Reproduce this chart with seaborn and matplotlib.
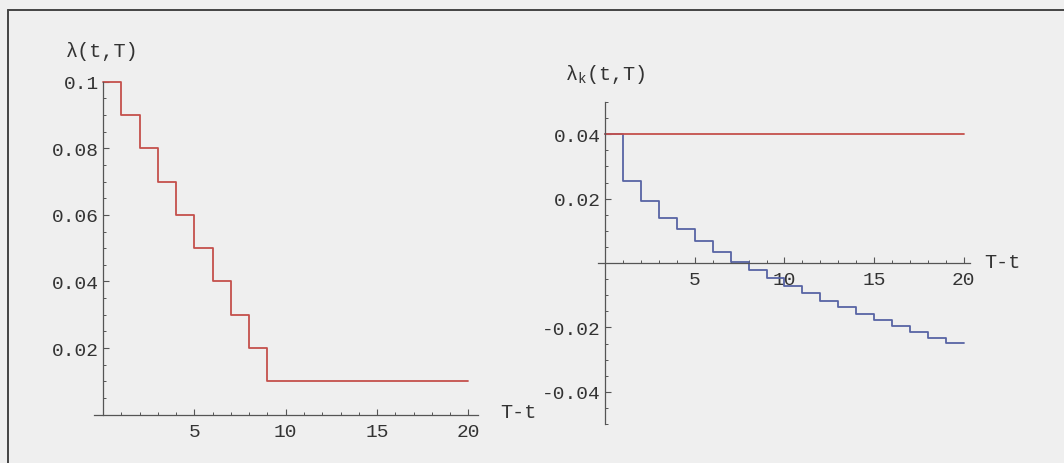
import numpy as np
import pandas as pd
import matplotlib
matplotlib.use("Agg")
import matplotlib.pyplot as plt
from matplotlib.lines import Line2D
from matplotlib.ticker import FixedLocator, FixedFormatter, MultipleLocator
import seaborn as sns

# ---- data ----
t_left = list(range(0, 21))
lam_left = [0.10, 0.09, 0.08, 0.07, 0.06, 0.05, 0.04, 0.03, 0.02,
            0.01, 0.01, 0.01, 0.01, 0.01, 0.01, 0.01, 0.01, 0.01, 0.01, 0.01, 0.01]

t_right = list(range(0, 21))
lam_k_red = [0.04] * 21
lam_k_blue = [0.040, 0.0254, 0.0191, 0.0141, 0.0106, 0.0067, 0.0034, 0.0003,
              -0.0023, -0.0048, -0.0071, -0.0093, -0.0118, -0.0138, -0.0159,
              -0.0177, -0.0196, -0.0214, -0.0233, -0.0249, -0.0249]

left_xticks = [5, 10, 15, 20]
left_xticklabels = ["5", "10", "15", "20"]
left_yticks = [0.02, 0.04, 0.06, 0.08, 0.1]
left_yticklabels = ["0.02", "0.04", "0.06", "0.08", "0.1"]
right_xticks = [5, 10, 15, 20]
right_xticklabels = ["5", "10", "15", "20"]
right_yticks = [-0.04, -0.02, 0.02, 0.04]
right_yticklabels = ["-0.04", "-0.02", "0.02", "0.04"]

RED = "#c4504c"
BLUE = "#5864a4"
BG = "#efefef"
AXC = "#555555"
TXT = "#333333"

sns.set_theme(style="white")
plt.rcParams["font.family"] = ["Liberation Mono", "DejaVu Sans"]
plt.rcParams["mathtext.fontset"] = "custom"
plt.rcParams["mathtext.rm"] = "Liberation Mono"
plt.rcParams["mathtext.it"] = "Liberation Mono"

W, H = 1064, 464
fig = plt.figure(figsize=(W / 100, H / 100), dpi=100, facecolor=BG)


def px_axes(left, top, right, bottom):
    return fig.add_axes([left / W, 1 - bottom / H, (right - left) / W, (bottom - top) / H])


def style_axes(ax, xt, xtl, yt, ytl, yminor):
    ax.set_facecolor("none")
    for s in ["top", "right"]:
        ax.spines[s].set_visible(False)
    for s in ["left", "bottom"]:
        ax.spines[s].set_position(("data", 0))
        ax.spines[s].set_color(AXC)
        ax.spines[s].set_linewidth(0.9)
    ax.xaxis.set_major_locator(FixedLocator(xt))
    ax.xaxis.set_major_formatter(FixedFormatter(xtl))
    ax.yaxis.set_major_locator(FixedLocator(yt))
    ax.yaxis.set_major_formatter(FixedFormatter(ytl))
    ax.xaxis.set_minor_locator(MultipleLocator(1))
    ax.yaxis.set_minor_locator(MultipleLocator(yminor))
    ax.tick_params(which="major", direction="in", length=4, width=0.8, color=AXC,
                   labelsize=14, labelcolor=TXT)
    ax.tick_params(which="minor", direction="in", length=2, width=0.7, color=AXC)
    ax.tick_params(axis="x", which="major", pad=6, bottom=True)
    ax.tick_params(axis="x", which="minor", bottom=True)
    ax.tick_params(axis="y", which="major", pad=3, left=True)
    ax.tick_params(axis="y", which="minor", left=True)
    ax.set_xlabel("")
    ax.set_ylabel("")


# ---- left panel ----
ax1 = px_axes(94, 82.7, 477.5, 415.6)
df1 = pd.DataFrame({"t": t_left, "lam": lam_left})
sns.lineplot(data=df1, x="t", y="lam", ax=ax1, drawstyle="steps-post", color=RED,
             linewidth=1.3, estimator=None, sort=False, clip_on=False)
ax1.set_xlim(-0.5, 20.5)
ax1.set_ylim(0, 0.1)
style_axes(ax1, left_xticks, left_xticklabels, left_yticks, left_yticklabels, 0.005)

# ---- right panel ----
ax2 = px_axes(598, 103, 970, 425)
df2 = pd.DataFrame({"t": t_right + t_right,
                    "val": lam_k_blue + lam_k_red,
                    "series": ["blue"] * len(t_right) + ["red"] * len(t_right)})
sns.lineplot(data=df2, x="t", y="val", hue="series", palette={"blue": BLUE, "red": RED},
             ax=ax2, drawstyle="steps-post", linewidth=1.3, estimator=None, sort=False,
             legend=False)
ax2.set_xlim(-0.4, 20.35)
ax2.set_ylim(-0.05, 0.05)
style_axes(ax2, right_xticks, right_xticklabels, right_yticks, right_yticklabels, 0.005)

# ---- axis labels ----
fig.text(500 / W, 1 - 412 / H, "T-t", fontsize=14.5, va="center", ha="left", color=TXT)
fig.text(66 / W, 1 - 52 / H, "λ(t,T)", fontsize=14.5, va="center", ha="left", color=TXT)
fig.text(984 / W, 1 - 262 / H, "T-t", fontsize=14.5, va="center", ha="left", color=TXT)
fig.text(565 / W, 1 - 75 / H, r"$\lambda_{\mathrm{k}}$(t,T)", fontsize=14.5, va="center",
         ha="left", color=TXT)

# ---- page frame ----
fig.add_artist(Line2D([8 / W, 8 / W], [0, 1 - 11 / H], transform=fig.transFigure,
                      color="#444444", linewidth=1.4))
fig.add_artist(Line2D([8 / W, 1], [1 - 11 / H, 1 - 11 / H], transform=fig.transFigure,
                      color="#444444", linewidth=1.4))

fig.savefig("out.png", dpi=100, facecolor=BG)
